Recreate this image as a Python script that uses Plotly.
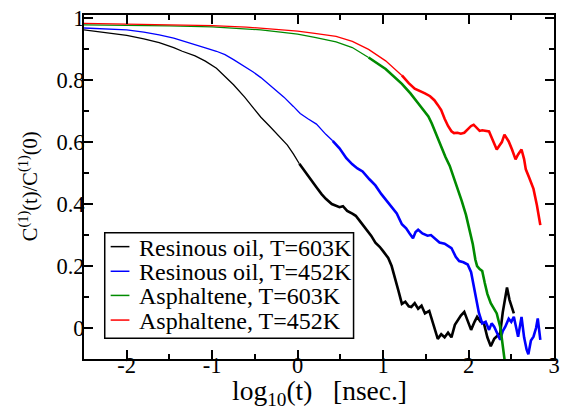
import plotly.graph_objects as go

# log10(t) [ns] and normalised orientational correlation C1(t)/C1(0)
resin603_x = [-2.5, -2.25, -2.0, -1.8, -1.62, -1.45, -1.35, -1.2, -1.08, -0.95, -0.85, -0.75,
              -0.62, -0.52, -0.43, -0.33, -0.22, -0.12, -0.05, 0.02, 0.07, 0.15, 0.22, 0.28,
              0.33, 0.40, 0.45, 0.49, 0.53, 0.58, 0.64, 0.68, 0.72, 0.76, 0.82, 0.86, 0.91,
              0.96, 1.0, 1.06, 1.10, 1.14, 1.18, 1.22, 1.26, 1.30, 1.33, 1.37, 1.41, 1.45,
              1.49, 1.54, 1.57, 1.60, 1.64, 1.68, 1.72, 1.76, 1.80, 1.84, 1.87, 1.91, 1.95,
              1.98, 2.03, 2.07, 2.10, 2.14, 2.18, 2.22, 2.26, 2.30, 2.33, 2.37, 2.40, 2.43,
              2.45, 2.48, 2.51, 2.53]
resin603_y = [0.962, 0.953, 0.944, 0.933, 0.921, 0.905, 0.893, 0.878, 0.861, 0.838, 0.812, 0.785,
              0.745, 0.712, 0.680, 0.652, 0.618, 0.590, 0.562, 0.530, 0.512, 0.480, 0.454, 0.432,
              0.417, 0.400, 0.395, 0.390, 0.393, 0.378, 0.369, 0.362, 0.348, 0.333, 0.310, 0.298,
              0.275, 0.262, 0.248, 0.226, 0.200, 0.163, 0.120, 0.078, 0.085, 0.070, 0.068, 0.080,
              0.062, 0.072, 0.047, 0.055, 0.030, 0.004, -0.035, -0.020, -0.030, -0.015, -0.030,
              0.010, 0.025, 0.040, 0.052, 0.030, -0.006, 0.020, 0.036, 0.020, 0.015, -0.030,
              -0.059, -0.035, -0.028, -0.017, 0.050, 0.100, 0.131, 0.090, 0.068, 0.047]

resin452_x = [-2.5, -2.25, -2.0, -1.8, -1.62, -1.45, -1.35, -1.2, -1.08, -0.95, -0.85, -0.75,
              -0.62, -0.52, -0.43, -0.30, -0.16, -0.05, 0.03, 0.12, 0.22, 0.33, 0.41, 0.49,
              0.57, 0.64, 0.70, 0.76, 0.84, 0.91, 0.98, 1.06, 1.12, 1.16, 1.22, 1.27, 1.31,
              1.35, 1.38, 1.41, 1.46, 1.52, 1.56, 1.60, 1.66, 1.72, 1.76, 1.80, 1.85, 1.89,
              1.94, 1.99, 2.03, 2.06, 2.09, 2.12, 2.16, 2.20, 2.24, 2.27, 2.30, 2.34, 2.37,
              2.40, 2.43, 2.47, 2.50, 2.53, 2.56, 2.58, 2.62, 2.65, 2.68, 2.70, 2.73, 2.76,
              2.79, 2.81, 2.84]
resin452_y = [0.968, 0.966, 0.962, 0.955, 0.946, 0.935, 0.926, 0.915, 0.904, 0.893, 0.882, 0.866,
              0.845, 0.826, 0.808, 0.778, 0.745, 0.715, 0.692, 0.675, 0.658, 0.625, 0.604, 0.580,
              0.548, 0.528, 0.515, 0.505, 0.480, 0.460, 0.432, 0.405, 0.385, 0.370, 0.335, 0.322,
              0.305, 0.290, 0.310, 0.317, 0.305, 0.298, 0.300, 0.290, 0.276, 0.272, 0.265, 0.258,
              0.230, 0.216, 0.212, 0.205, 0.180, 0.140, 0.090, 0.050, 0.015, 0.020, -0.006, 0.015,
              0.004, -0.020, -0.038, -0.010, 0.004, 0.030, 0.020, 0.036, -0.010, -0.028, 0.036,
              -0.030, -0.070, -0.085, -0.040, -0.028, 0.000, 0.031, -0.038]

asph603_x = [-2.5, -2.0, -1.5, -1.0, -0.6, -0.43, -0.2, 0.0, 0.2, 0.45, 0.64, 0.83, 1.03, 1.22,
             1.32, 1.41, 1.48, 1.53, 1.57, 1.60, 1.64, 1.68, 1.73, 1.78, 1.83, 1.87, 1.92, 1.97,
             2.01, 2.05, 2.08, 2.10, 2.13, 2.16, 2.19, 2.22, 2.26, 2.30, 2.33, 2.35, 2.37, 2.39,
             2.41, 2.43]
asph603_y = [0.978, 0.977, 0.975, 0.972, 0.966, 0.962, 0.955, 0.948, 0.938, 0.923, 0.905, 0.873,
             0.836, 0.788, 0.757, 0.725, 0.700, 0.683, 0.660, 0.639, 0.612, 0.585, 0.552, 0.523,
             0.485, 0.452, 0.410, 0.365, 0.320, 0.270, 0.220, 0.200, 0.190, 0.184, 0.145, 0.110,
             0.080, 0.063, 0.047, 0.025, 0.004, -0.035, -0.070, -0.120]

asph452_x = [-2.5, -2.0, -1.5, -1.0, -0.6, -0.43, -0.2, 0.0, 0.2, 0.45, 0.64, 0.83, 1.03, 1.22,
             1.30, 1.37, 1.43, 1.49, 1.55, 1.60, 1.64, 1.68, 1.72, 1.76, 1.80, 1.83, 1.87, 1.91,
             1.95, 1.99, 2.03, 2.06, 2.10, 2.13, 2.16, 2.20, 2.24, 2.27, 2.30, 2.33, 2.36, 2.39,
             2.42, 2.45, 2.47, 2.51, 2.55, 2.58, 2.62, 2.65, 2.67, 2.71, 2.76, 2.80, 2.82, 2.84]
asph452_y = [0.983, 0.981, 0.979, 0.976, 0.971, 0.968, 0.962, 0.958, 0.951, 0.941, 0.925, 0.899,
             0.862, 0.815, 0.790, 0.772, 0.765, 0.757, 0.748, 0.735, 0.720, 0.703, 0.675, 0.652,
             0.635, 0.629, 0.630, 0.627, 0.630, 0.640, 0.652, 0.656, 0.645, 0.636, 0.638, 0.636,
             0.634, 0.615, 0.595, 0.576, 0.588, 0.600, 0.624, 0.610, 0.602, 0.575, 0.544, 0.560,
             0.576, 0.545, 0.512, 0.485, 0.449, 0.396, 0.360, 0.332]

series_names = ["Resinous oil, T=603K", "Resinous oil, T=452K",
                "Asphaltene, T=603K", "Asphaltene, T=452K"]
series_colors = ["#000000", "#0000ff", "#008b00", "#ff0000"]
# log10(t) beyond which each trace becomes noisy (drawn with a heavier stroke)
noisy_from = [0.0, 0.4, 0.8, 1.2]

x_ticks = [-2, -1, 0, 1, 2, 3]
y_ticks = [0, 0.2, 0.4, 0.6, 0.8, 1]
y_tick_text = ["0", "0.2", "0.4", "0.6", "0.8", "1"]

x_title = "log<sub>10</sub>(t)\u00a0\u00a0\u00a0[nsec.]"
y_title = "C<sup>(1)</sup>(t)/C<sup>(1)</sup>(0)"

series_x = [resin603_x, resin452_x, asph603_x, asph452_x]
series_y = [resin603_y, resin452_y, asph603_y, asph452_y]

W, H = 566, 415
L, R, T, B = 84, 6, 10, 56
SERIF = "Liberation Serif"

fig = go.Figure()
for name, color, xs, ys, cut in zip(series_names, series_colors, series_x, series_y, noisy_from):
    k = next(i for i, v in enumerate(xs) if v >= cut)
    fig.add_trace(go.Scatter(x=xs[:k + 1], y=ys[:k + 1], mode="lines", name=name,
                             showlegend=False, line=dict(color=color, width=1.3)))
    fig.add_trace(go.Scatter(x=xs[k:], y=ys[k:], mode="lines", name=name,
                             showlegend=False, line=dict(color=color, width=2.6)))

axis_common = dict(
    showline=True, linecolor="black", linewidth=2, mirror="allticks",
    ticks="inside", ticklen=9, tickwidth=1.5, tickcolor="black",
    showgrid=False, zeroline=False,
    tickfont=dict(family=SERIF, size=22.5, color="black"),
)

fig.update_xaxes(
    range=[-2.5, 3], tickvals=x_ticks, ticktext=[str(v) for v in x_ticks],
    ticklabelstandoff=-15,
    minor=dict(dtick=0.5, tick0=0, ticks="inside", ticklen=5, tickwidth=1.5, tickcolor="black"),
    **axis_common,
)
fig.update_yaxes(
    range=[-0.1, 1.01], tickvals=y_ticks, ticktext=y_tick_text,
    ticklabelstandoff=-7,
    minor=dict(dtick=0.1, tick0=0, ticks="inside", ticklen=5, tickwidth=1.5, tickcolor="black"),
    **axis_common,
)


# frame-relative placement helpers (pixel -> paper fraction of the plot area)
def px_x(p):
    return (p - L) / (W - L - R)


def px_y(p):
    return (H - B - p) / (H - T - B)


annotations = [
    dict(xref="paper", yref="paper", x=px_x(322), y=px_y(393), xanchor="center",
         yanchor="middle", showarrow=False, text=x_title,
         font=dict(family=SERIF, size=27.5, color="black")),
    dict(xref="paper", yref="paper", x=px_x(28), y=px_y(184), xanchor="center",
         yanchor="middle", showarrow=False, textangle=-90, text=y_title,
         font=dict(family=SERIF, size=20.5, color="black")),
]

# legend box
shapes = [dict(type="rect", xref="paper", yref="paper",
               x0=px_x(105), x1=px_x(357), y0=px_y(338), y1=px_y(231),
               line=dict(color="black", width=1.5), fillcolor="white", layer="above")]
row_y = [245, 270, 294.5, 319.5]
for name, color, ry in zip(series_names, series_colors, row_y):
    shapes.append(dict(type="line", xref="paper", yref="paper",
                       x0=px_x(111), x1=px_x(130), y0=px_y(ry), y1=px_y(ry),
                       line=dict(color=color, width=1.5), layer="above"))
    annotations.append(dict(xref="paper", yref="paper", x=px_x(138), y=px_y(ry + 1),
                            xanchor="left", yanchor="middle", showarrow=False,
                            text=name, font=dict(family=SERIF, size=24, color="black")))

fig.update_layout(
    width=W, height=H,
    margin=dict(l=L, r=R, t=T, b=B),
    font=dict(family=SERIF, color="black"),
    plot_bgcolor="white", paper_bgcolor="white",
    showlegend=False,
    shapes=shapes, annotations=annotations,
)

fig.write_html("out.html")
